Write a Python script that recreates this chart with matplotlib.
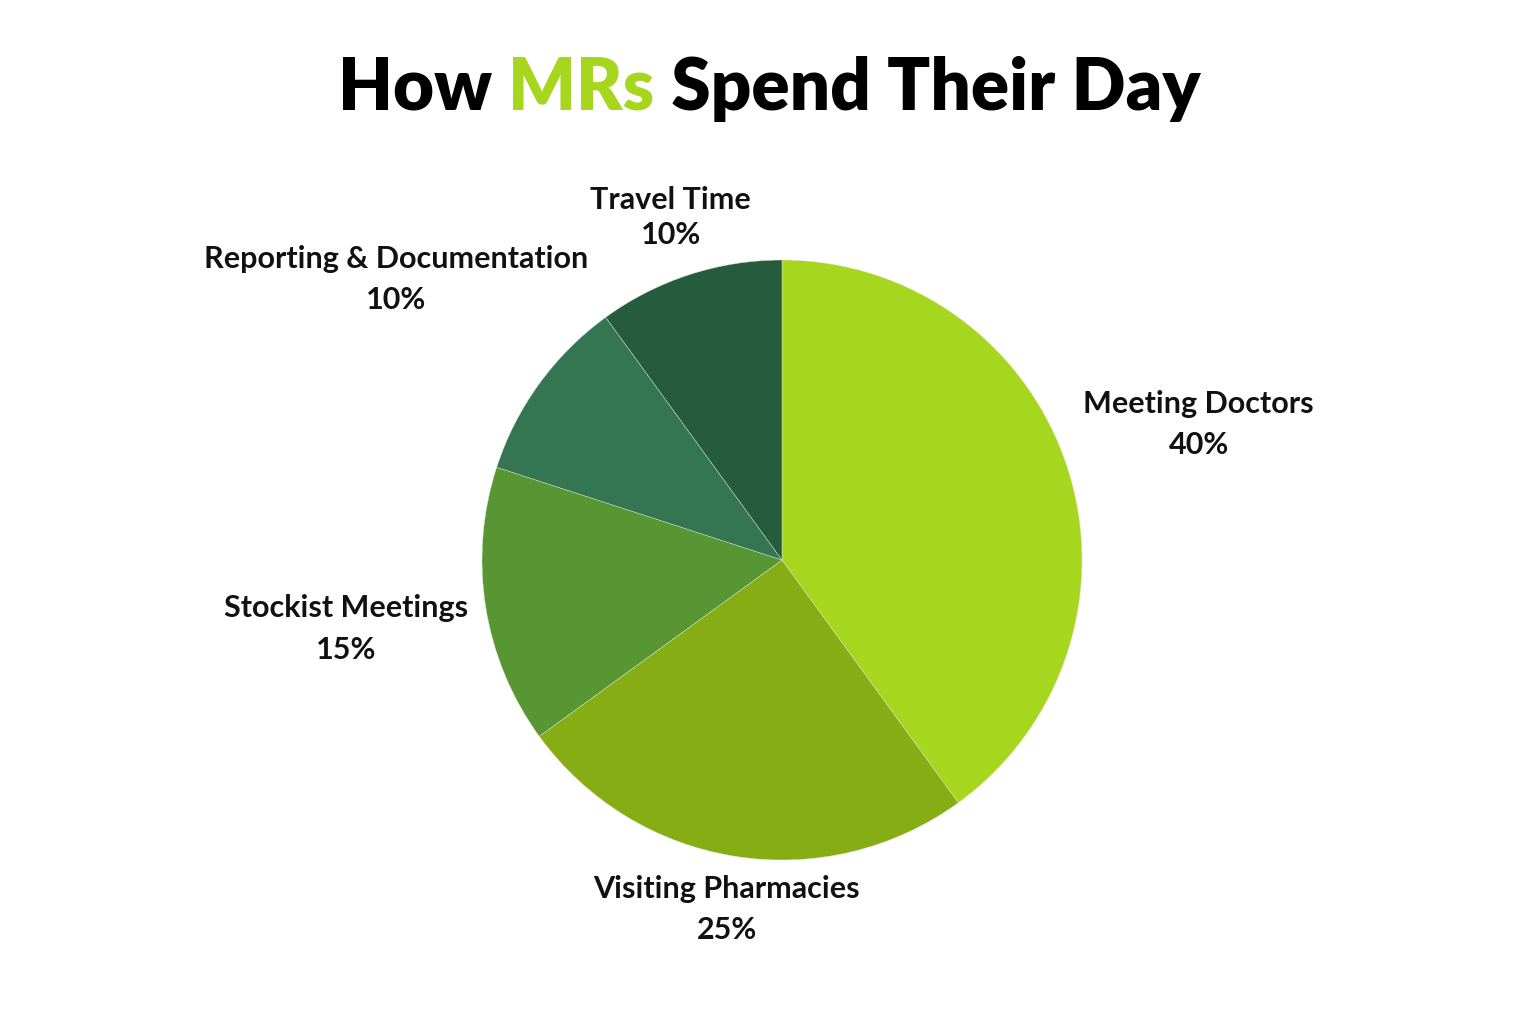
import numpy as np
import matplotlib.pyplot as plt

plt.rcParams['font.family'] = ['Lato', 'DejaVu Sans']

labels = ['Meeting Doctors', 'Visiting Pharmacies', 'Stockist Meetings',
          'Reporting & Documentation', 'Travel Time']
shares = [40, 25, 15, 10, 10]
colors = ['#a6d71e', '#87ad14', '#579632', '#347552', '#265c3e']
# how far each label sits from the centre, in radii, and its line spacing
label_dist = [1.46, 1.18, 1.47, 1.59, 1.2]
label_ls = [1.58, 1.58, 1.58, 1.58, 1.3]

fig = plt.figure(figsize=(15.36, 10.24), dpi=100)
fig.patch.set_facecolor('white')

# pie: centre (782,560) px, radius 300 px
ax = fig.add_axes([482 / 1536, (1024 - 860) / 1024, 600 / 1536, 600 / 1024])
wedges, _ = ax.pie(shares, colors=colors, startangle=90, counterclock=False,
                   radius=1, wedgeprops=dict(edgecolor='#dfe8d8', linewidth=0.3))
ax.set_xlim(-1, 1)
ax.set_ylim(-1, 1)
ax.set_aspect('equal')
ax.axis('off')

for w, lab, s, d, ls in zip(wedges, labels, shares, label_dist, label_ls):
    mid = np.deg2rad((w.theta1 + w.theta2) / 2)
    ax.text(d * np.cos(mid), d * np.sin(mid), f'{lab}\n{s}%', ha='center', va='center',
            fontsize=22, fontweight='bold', color='#111111', linespacing=ls,
            clip_on=False)

# title with the green word
parts = [('How ', '#000000'), ('MRs', '#a6d71e'), (' Spend Their Day', '#000000')]
fig.canvas.draw()
r = fig.canvas.get_renderer()
texts = []
for t, c in parts:
    texts.append(fig.text(0, 1 - 110 / 1024, t, color=c, fontsize=51, fontweight='heavy',
                          ha='left', va='baseline'))
widths = [tx.get_window_extent(renderer=r).width for tx in texts]
x = 769 - sum(widths) / 2
for tx, wd in zip(texts, widths):
    tx.set_x(x / 1536)
    x += wd

fig.savefig('out.png', dpi=100, facecolor='white')
